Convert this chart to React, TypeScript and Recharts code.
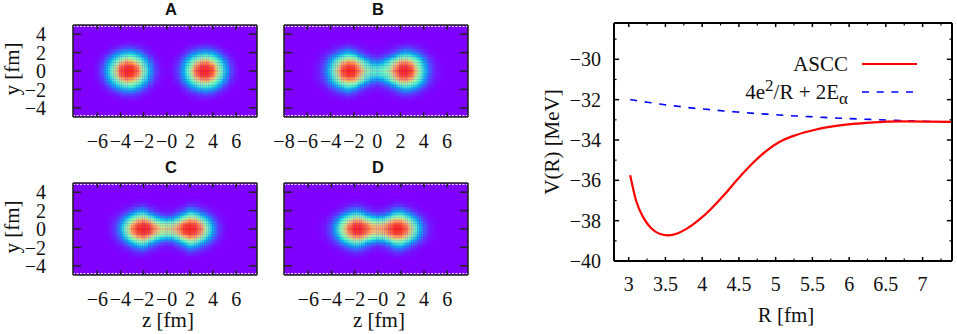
import React from 'react';
import {
  CartesianGrid,
  ComposedChart,
  Legend,
  Line,
  ReferenceLine,
  Scatter,
  ScatterChart,
  XAxis,
  YAxis,
} from 'recharts';

// Density maps, upper right quadrant only (percent of colour scale).
// rows are heatY, columns are heatZ; the other quadrants mirror it.
const heatZ = [0, 0.5, 1, 1.5, 2, 2.5, 3, 3.5, 4, 4.5, 5, 5.5, 6];
const heatY = [0, 0.5, 1, 1.5, 2, 2.5, 3];

const densityA = [
  [1, 2, 10, 28, 54, 86, 94, 95, 89, 60, 33, 13, 3],
  [0, 2, 9, 25, 49, 78, 92, 92, 84, 55, 30, 11, 3],
  [0, 1, 6, 20, 38, 60, 75, 78, 64, 42, 23, 8, 2],
  [0, 1, 3, 11, 25, 38, 49, 50, 41, 28, 14, 4, 1],
  [0, 0, 1, 4, 12, 21, 27, 28, 23, 14, 5, 2, 0],
  [0, 0, 0, 2, 4, 7, 10, 11, 8, 4, 2, 0, 0],
  [0, 0, 0, 0, 1, 2, 3, 3, 2, 1, 0, 0, 0],
];
const densityB = [
  [44, 48, 58, 82, 94, 95, 90, 63, 35, 15, 4, 1, 0],
  [36, 40, 50, 72, 90, 92, 84, 56, 32, 13, 4, 1, 0],
  [19, 23, 38, 58, 75, 78, 68, 46, 26, 10, 3, 1, 0],
  [7, 10, 18, 30, 46, 50, 42, 30, 16, 6, 2, 0, 0],
  [2, 3, 6, 12, 22, 28, 22, 14, 7, 2, 1, 0, 0],
  [1, 1, 2, 4, 8, 11, 8, 5, 2, 1, 0, 0, 0],
  [0, 0, 1, 1, 2, 3, 2, 1, 1, 0, 0, 0, 0],
];
const densityC = [
  [66, 68, 80, 93, 95, 93, 82, 52, 24, 8, 2, 0, 0],
  [56, 58, 70, 88, 92, 88, 74, 46, 21, 7, 2, 0, 0],
  [28, 31, 44, 62, 76, 70, 52, 32, 14, 5, 1, 0, 0],
  [9, 11, 20, 32, 47, 42, 28, 16, 7, 2, 1, 0, 0],
  [2, 3, 7, 13, 24, 20, 12, 6, 2, 1, 0, 0, 0],
  [1, 1, 2, 4, 9, 7, 4, 2, 1, 0, 0, 0, 0],
  [0, 0, 0, 1, 2, 2, 1, 0, 0, 0, 0, 0, 0],
];
const densityD = [
  [74, 78, 88, 95, 95, 86, 62, 34, 13, 4, 1, 0, 0],
  [66, 69, 82, 91, 90, 78, 55, 30, 12, 4, 1, 0, 0],
  [40, 44, 58, 72, 72, 58, 40, 21, 8, 2, 1, 0, 0],
  [16, 19, 28, 42, 44, 34, 21, 10, 4, 1, 0, 0, 0],
  [4, 6, 11, 20, 22, 15, 8, 3, 1, 0, 0, 0, 0],
  [1, 2, 4, 7, 8, 5, 2, 1, 0, 0, 0, 0, 0],
  [0, 0, 1, 2, 2, 1, 1, 0, 0, 0, 0, 0, 0],
];

const zTicks = [-6, -4, -2, 0, 2, 4, 6];
const zLabels = ['−6', '−4', '−2', '−0', '2', '4', '6'];
const zTicksB = [-8, -6, -4, -2, 0, 2, 4, 6];
const zLabelsB = ['−8', '−6', '−4', '−2', '0', '2', '4', '6'];
const yTicks = [-4, -2, 0, 2, 4];
const yLabels = ['−4', '−2', '0', '2', '4'];

// V(R) curves
const radius = [3.02, 3.1, 3.2, 3.3, 3.42, 3.54, 3.67, 3.78, 3.96, 4.12, 4.3, 4.47, 4.71, 4.87, 5.05, 5.28, 5.55, 5.87, 6.28, 6.73, 7.4];
const ascc = [-35.75, -37.0, -37.85, -38.35, -38.65, -38.73, -38.62, -38.42, -37.95, -37.42, -36.72, -36.0, -35.07, -34.55, -34.1, -33.75, -33.48, -33.28, -33.14, -33.08, -33.1];
const coulomb = [-31.99, -32.04, -32.1, -32.15, -32.22, -32.27, -32.33, -32.38, -32.45, -32.5, -32.56, -32.61, -32.68, -32.72, -32.76, -32.81, -32.86, -32.92, -32.98, -33.04, -33.12];

const rTicks = [3, 3.5, 4, 4.5, 5, 5.5, 6, 6.5, 7];
const rMinorTicks = [3.25, 3.75, 4.25, 4.75, 5.25, 5.75, 6.25, 6.75, 7.25];
const vTicks = [-40, -38, -36, -34, -32, -30];
const vLabels = ['−40', '−38', '−36', '−34', '−32', '−30'];
const vMinorTicks = [-39, -37, -35, -33, -31, -29];

const curveData = radius.map((r, i) => ({ r, ascc: ascc[i], coulomb: coulomb[i] }));

const paletteStops = ['#8000ff', '#4062fa', '#00b5eb', '#40ecd4', '#80ffb4', '#c0eb8d', '#ffb360', '#ff6230', '#ff0000'];

const SERIF = '"Liberation Serif", serif';
const SANS = '"Liberation Sans", sans-serif';
const FRAME = '#222';

function densityColor(percent: number) {
  const t = (percent / 100) * (paletteStops.length - 1);
  const i = Math.min(Math.floor(t), paletteStops.length - 2);
  const f = t - i;
  const a = paletteStops[i];
  const b = paletteStops[i + 1];
  const mix = (s: number) => {
    const p = parseInt(a.slice(s, s + 2), 16);
    const q = parseInt(b.slice(s, s + 2), 16);
    return Math.round(p + (q - p) * f);
  };
  return `rgb(${mix(1)},${mix(3)},${mix(5)})`;
}

function buildCells(rows: number[][]) {
  const cells: { z: number; y: number; density: number }[] = [];
  rows.forEach((row, j) => {
    row.forEach((density, i) => {
      if (density === 0) return;
      const zs = heatZ[i] === 0 ? [0] : [heatZ[i], -heatZ[i]];
      const ys = heatY[j] === 0 ? [0] : [heatY[j], -heatY[j]];
      zs.forEach((z) => ys.forEach((y) => cells.push({ z, y: y, density })));
    });
  });
  return cells;
}

// colour shading between table entries, like pm3d interpolate does it
function shadeAt(rows: number[][], z: number, y: number) {
  const u = Math.abs(z) / 0.5;
  const v = Math.abs(y) / 0.5;
  const i = Math.floor(u);
  const j = Math.floor(v);
  const at = (a: number, b: number) => (rows[b] && rows[b][a]) || 0;
  const fu = u - i;
  const fv = v - j;
  return (
    at(i, j) * (1 - fu) * (1 - fv) +
    at(i + 1, j) * fu * (1 - fv) +
    at(i, j + 1) * (1 - fu) * fv +
    at(i + 1, j + 1) * fu * fv
  );
}

const subSteps = [-1, 0, 1];

const heatCell = (rows: number[][]) => (props: any) => {
  const { z, y } = props.payload;
  return (
    <g>
      {subSteps.map((a) =>
        subSteps.map((b) => (
          <rect
            key={`${a}${b}`}
            x={props.cx + a * 2 - 1}
            y={props.cy - b * 1.6 - 0.85}
            width={2.05}
            height={1.7}
            fill={densityColor(shadeAt(rows, z + a / 6, y + b / 6))}
          />
        ))
      )}
    </g>
  );
};

// inward tick marks as short reference segments, lengths in data units
const xMarks = (ticks: number[], edge: number, len: number, color: string, w: number) =>
  ticks.map((v) => (
    <ReferenceLine key={`x${edge}${v}`} segment={[{ x: v, y: edge }, { x: v, y: edge + len }]} stroke={color} strokeWidth={w} />
  ));
const yMarks = (ticks: number[], edge: number, len: number, color: string, w: number) =>
  ticks.map((v) => (
    <ReferenceLine key={`y${edge}${v}`} segment={[{ x: edge, y: v }, { x: edge + len, y: v }]} stroke={color} strokeWidth={w} />
  ));

const axisFont = { fontFamily: SERIF, fontSize: 20, fill: '#111' };
const titleFont = { fontFamily: SERIF, fontSize: 21, fill: '#111' };

interface PanelProps {
  title: string;
  rows: number[][];
  left: number;
  top: number;
  titleX: number;
  zDomain: number[];
  ticks: number[];
  labels: string[];
  showY?: boolean;
  showZ?: boolean;
}

const HeatPanel: React.FC<PanelProps> = ({ title, rows, left, top, titleX, zDomain, ticks, labels, showY, showZ }) => {
  const width = 268;
  const plotLeft = 73;
  const plotRight = 257;
  const plotTop = 25;
  const plotBottom = 117;
  const height = 176;
  return (
    <div className="heat" style={{ position: 'absolute', left, top, width, height }}>
      <ScatterChart
        width={width}
        height={height}
        margin={{ top: plotTop, right: width - plotRight, bottom: 0, left: 0 }}
      >
        <CartesianGrid horizontal={false} vertical={false} fill="#7f00ff" />
        <Scatter data={buildCells(rows)} shape={heatCell(rows)} isAnimationActive={false} />
        <ReferenceLine y={4.85} stroke="#fff" strokeWidth={1} strokeDasharray="2 1.5" />
        <ReferenceLine y={-4.85} stroke="#fff" strokeWidth={1} strokeDasharray="2 1.5" />
        {xMarks(ticks.filter((v) => v > zDomain[0]), 5, -0.5, FRAME, 1.5)}
        {xMarks(ticks.filter((v) => v > zDomain[0]), -5, 0.5, FRAME, 1.5)}
        {yMarks(yTicks, zDomain[0], 0.7, FRAME, 1.5)}
        {yMarks(yTicks, zDomain[1], -0.7, FRAME, 1.5)}
        <XAxis xAxisId="top" orientation="top" type="number" domain={zDomain} mirror height={1} tick={false} tickLine={false} stroke={FRAME} strokeWidth={1.6} />
        <YAxis yAxisId="right" orientation="right" type="number" domain={[-5, 5]} mirror width={1} tick={false} tickLine={false} stroke={FRAME} strokeWidth={1.6} />
        <XAxis
          dataKey="z"
          type="number"
          domain={zDomain}
          ticks={ticks}
          interval={0}
          height={height - plotBottom}
          tickLine={false}
          tickSize={0}
          tickMargin={16.5}
          tickFormatter={(v: number) => labels[ticks.indexOf(v)]}
          tick={axisFont}
          stroke={FRAME}
          strokeWidth={1.6}
        />
        <YAxis
          dataKey="y"
          type="number"
          domain={[-5, 5]}
          ticks={yTicks}
          interval={0}
          width={plotLeft}
          tickLine={false}
          tickSize={0}
          tickMargin={27}
          tickFormatter={(v: number) => yLabels[yTicks.indexOf(v)]}
          tick={showY ? axisFont : false}
          stroke={FRAME}
          strokeWidth={1.6}
        />
        <text x={titleX} y={15} textAnchor="middle" fontFamily={SANS} fontWeight="bold" fontSize={16.5} fill="#111">
          {title}
        </text>
        {showY && (
          <text x={0} y={0} transform="translate(19,69) rotate(-90)" textAnchor="middle" {...titleFont}>
            y [fm]
          </text>
        )}
        {showZ && (
          <text x={plotLeft + 95} y={169} textAnchor="middle" {...titleFont}>
            z [fm]
          </text>
        )}
      </ScatterChart>
    </div>
  );
};

const CurveLegend = () => {
  const rowStyle: React.CSSProperties = {
    position: 'absolute',
    right: 122,
    whiteSpace: 'nowrap',
    fontFamily: SERIF,
    fontSize: 21,
    color: '#111',
    lineHeight: '24px',
  };
  return (
    <div style={{ position: 'relative', width: 320, height: 60 }}>
      <div style={{ ...rowStyle, top: 0 }}>ASCC</div>
      <svg style={{ position: 'absolute', left: 212, top: 0 }} width={60} height={50}>
        <line x1={0} x2={55} y1={12} y2={12} stroke="#ff0000" strokeWidth={2} />
        <line x1={0} x2={51} y1={40} y2={40} stroke="#0000ff" strokeWidth={1.6} strokeDasharray="7 7.7" />
      </svg>
      <div style={{ ...rowStyle, top: 28 }}>
        4e<sup style={{ fontSize: 17, lineHeight: 0 }}>2</sup>/R + 2E<sub style={{ fontSize: 17, lineHeight: 0 }}>α</sub>
      </div>
    </div>
  );
};

const curveLeft = 84;
const curveRight = 422;
const curveTop = 23;
const curveBottom = 261;

const CurvePanel = () => (
  <div style={{ position: 'absolute', left: 530, top: 0, width: 427, height: 334 }}>
    <ComposedChart
      width={427}
      height={334}
      data={curveData}
      margin={{ top: curveTop, right: 427 - curveRight, bottom: 0, left: 0 }}
    >
      {xMarks(rTicks, -28.2, -0.2, '#000', 1.5)}
      {xMarks(rMinorTicks, -28.2, -0.12, '#000', 1.2)}
      {xMarks(rTicks, -40, 0.2, '#000', 1.5)}
      {xMarks(rMinorTicks, -40, 0.12, '#000', 1.2)}
      {yMarks(vTicks, 2.8, 0.07, '#000', 1.5)}
      {yMarks(vMinorTicks, 2.8, 0.035, '#000', 1.2)}
      {yMarks(vTicks, 7.4, -0.07, '#000', 1.5)}
      {yMarks(vMinorTicks, 7.4, -0.035, '#000', 1.2)}
      <XAxis xAxisId="top" orientation="top" type="number" domain={[2.8, 7.4]} mirror height={1} tick={false} tickLine={false} stroke="#000" strokeWidth={2} />
      <YAxis yAxisId="right" orientation="right" type="number" domain={[-40, -28.2]} mirror width={1} tick={false} tickLine={false} stroke="#000" strokeWidth={2} />
      <XAxis
        dataKey="r"
        type="number"
        domain={[2.8, 7.4]}
        ticks={rTicks}
        interval={0}
        height={334 - curveBottom}
        tickLine={false}
        tickSize={0}
        tickMargin={16}
        tick={axisFont}
        stroke="#000"
        strokeWidth={2}
      />
      <YAxis
        type="number"
        domain={[-40, -28.2]}
        ticks={vTicks}
        interval={0}
        width={curveLeft}
        tickLine={false}
        tickSize={0}
        tickMargin={13}
        tickFormatter={(v: number) => vLabels[vTicks.indexOf(v)]}
        tick={axisFont}
        stroke="#000"
        strokeWidth={2}
      />
      <Line dataKey="coulomb" name="4e²/R + 2Eα" type="monotone" stroke="#0000ff" strokeWidth={1.6} strokeDasharray="7 7.7" dot={false} isAnimationActive={false} />
      <Line dataKey="ascc" name="ASCC" type="monotone" stroke="#ff0000" strokeWidth={2.2} dot={false} isAnimationActive={false} />
      <Legend
        layout="vertical"
        align="center"
        verticalAlign="middle"
        content={<CurveLegend />}
        wrapperStyle={{ left: 120, top: 52, width: 320 }}
      />
      <text x={0} y={0} transform="translate(29,142) rotate(-90)" textAnchor="middle" {...titleFont}>
        V(R) [MeV]
      </text>
      <text x={256} y={322} textAnchor="middle" {...titleFont}>
        R [fm]
      </text>
    </ComposedChart>
  </div>
);

export default function App() {
  return (
    <div style={{ position: 'absolute', left: 0, top: 0, width: 957, height: 334, overflow: 'hidden', background: '#fff' }}>
      <style>{'.heat .recharts-scatter { filter: blur(0.6px); }'}</style>
      <HeatPanel title="A" titleX={171} rows={densityA} left={0} top={0} zDomain={[-8.1, 7.8]} ticks={zTicks} labels={zLabels} showY />
      <HeatPanel title="B" titleX={167} rows={densityB} left={211} top={0} zDomain={[-8, 7.8]} ticks={zTicksB} labels={zLabelsB} />
      <HeatPanel title="C" titleX={171} rows={densityC} left={0} top={158} zDomain={[-8.1, 7.8]} ticks={zTicks} labels={zLabels} showY showZ />
      <HeatPanel title="D" titleX={167} rows={densityD} left={211} top={158} zDomain={[-8.1, 7.8]} ticks={zTicks} labels={zLabels} showZ />
      <CurvePanel />
    </div>
  );
}
